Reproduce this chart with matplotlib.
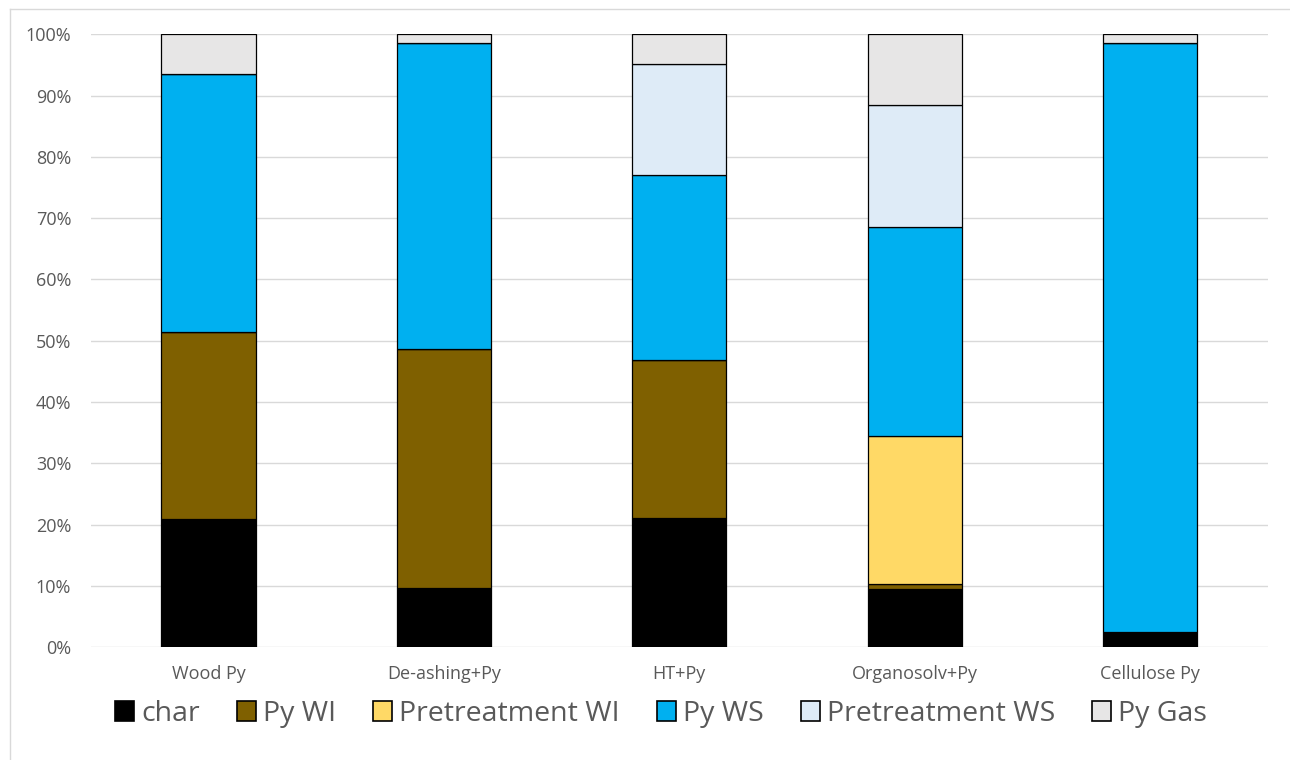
import matplotlib
matplotlib.use("Agg")
import matplotlib.pyplot as plt
from matplotlib.patches import Patch
from matplotlib.lines import Line2D
from matplotlib.ticker import PercentFormatter
import numpy as np

plt.rcParams['font.family'] = ['Open Sans', 'DejaVu Sans']

categories = ["Wood Py", "De-ashing+Py", "HT+Py", "Organosolv+Py", "Cellulose Py"]
series_names = ["char", "Py WI", "Pretreatment WI", "Py WS", "Pretreatment WS", "Py Gas"]
char = [21.0, 9.6, 21.1, 9.5, 2.5]
py_wi = [30.4, 39.1, 25.8, 0.9, 0.0]
pre_wi = [0.0, 0.0, 0.0, 24.0, 0.0]
py_ws = [42.2, 49.9, 30.1, 34.2, 96.0]
pre_ws = [0.0, 0.0, 18.2, 19.9, 0.0]
py_gas = [6.4, 1.4, 4.8, 11.5, 1.5]
colors = ["#000000", "#7f6000", "#ffd966", "#00b0f0", "#deebf7", "#e7e6e6"]

data = np.array([char, py_wi, pre_wi, py_ws, pre_ws, py_gas], dtype=float)
data = data / data.sum(axis=0) * 100.0

W, H = 1290, 760
fig = plt.figure(figsize=(W / 100, H / 100), dpi=100)
ax = fig.add_axes([90.7 / W, 1 - 647.3 / H, (1268 - 90.7) / W, (647.3 - 34.3) / H])

x = np.arange(len(categories))
bottom = np.zeros(len(categories))
for vals, c, name in zip(data, colors, series_names):
    ax.bar(x, vals, 0.40, bottom=bottom, color=c, edgecolor="black",
           linewidth=0.9, zorder=3, label=name)
    bottom += vals

ax.set_xlim(-0.5, len(categories) - 0.5)
ax.set_ylim(0, 100)
ax.set_yticks(np.arange(0, 101, 10))
ax.yaxis.set_major_formatter(PercentFormatter(decimals=0))
ax.set_xticks(x)
ax.set_xticklabels(categories)
ax.grid(axis="y", color="#d9d9d9", linewidth=1.0, zorder=0)
ax.set_axisbelow(True)
for s in ax.spines.values():
    s.set_visible(False)
ax.tick_params(axis="both", length=0, labelsize=13, colors="#595959")
ax.tick_params(axis="y", pad=14)
ax.tick_params(axis="x", pad=13)

handles = [Patch(facecolor=c, edgecolor="black", linewidth=1.2) for c in colors]
fig.legend(handles, series_names, loc="center", bbox_to_anchor=(661 / W, 1 - 714 / H),
           ncol=6, frameon=False, fontsize=20.5, labelcolor="#595959",
           handlelength=0.67, handleheight=0.67, handletextpad=0.25,
           columnspacing=1.3, borderaxespad=0, borderpad=0)

# chart frame
fig.add_artist(Line2D([10 / W, 1.0], [1 - 9 / H, 1 - 9 / H], color="#d9d9d9", linewidth=1.0,
                      transform=fig.transFigure))
fig.add_artist(Line2D([10 / W, 10 / W], [0.0, 1 - 9 / H], color="#d9d9d9", linewidth=1.0,
                      transform=fig.transFigure))

fig.savefig("out.png", dpi=100, facecolor="white")
